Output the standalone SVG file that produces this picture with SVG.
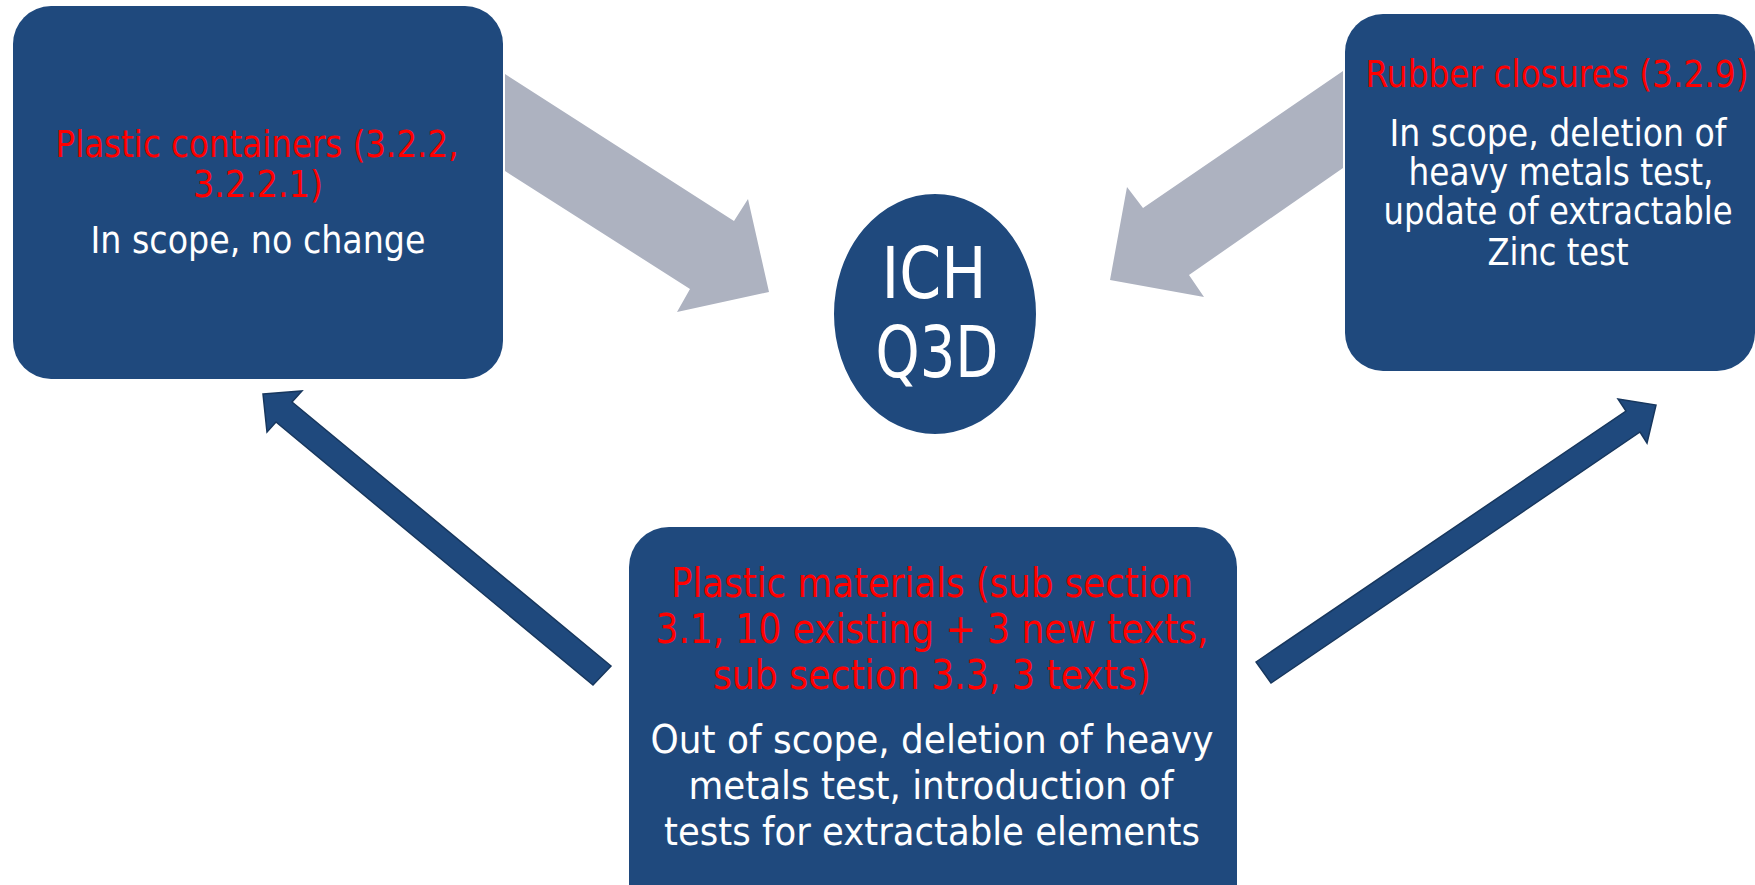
<svg xmlns="http://www.w3.org/2000/svg" width="1755" height="885" viewBox="0 0 1755 885">
<style>
.box{fill:#1F497D;}
.t{font-family:"DejaVu Sans","Noto Sans",sans-serif;text-anchor:middle;}
.red{fill:#FF0000;}
.wh{fill:#FFFFFF;}
.gray{fill:#ADB2C0;}
.blue{fill:#1F497D;stroke:#17375E;stroke-width:1.5;stroke-linejoin:miter;}
</style>
<rect width="1755" height="885" fill="#FFFFFF"/>
<g id="connectors">
<path class="gray" d="M505,74 L734,221 L748,199 L769,292 L677,312 L690,289 L505,171 Z"/>
<path class="gray" d="M1343,71 L1143,208 L1127,187 L1110,280 L1204,297 L1189,275 L1343,168 Z"/>
<path class="blue" d="M263,394 L302,391 L292,402 L611,666 L593,685 L276,422 L267,432 Z"/>
<path class="blue" d="M1256,662 L1626,411 L1618,399 L1656,405 L1647,443 L1640,432 L1271,683 Z"/>
</g>
<g id="node-plastic-containers">
<rect class="box" x="13" y="6" width="490" height="373" rx="38" ry="38"/>
<text class="t red" font-size="38" x="257" y="157" textLength="403" lengthAdjust="spacingAndGlyphs">Plastic containers (3.2.2,</text>
<text class="t red" font-size="38" x="258" y="197" textLength="130" lengthAdjust="spacingAndGlyphs">3.2.2.1)</text>
<text class="t wh" font-size="37" x="258" y="253" textLength="335" lengthAdjust="spacingAndGlyphs">In scope, no change</text>
</g>
<g id="node-rubber-closures">
<rect class="box" x="1345" y="14" width="410" height="357" rx="38" ry="38"/>
<text class="t red" font-size="37" x="1557" y="87" textLength="383" lengthAdjust="spacingAndGlyphs">Rubber closures (3.2.9)</text>
<text class="t wh" font-size="37" x="1558" y="146" textLength="337" lengthAdjust="spacingAndGlyphs">In scope, deletion of</text>
<text class="t wh" font-size="37" x="1561" y="185" textLength="305" lengthAdjust="spacingAndGlyphs">heavy metals test,</text>
<text class="t wh" font-size="37" x="1558" y="224" textLength="349" lengthAdjust="spacingAndGlyphs">update of extractable</text>
<text class="t wh" font-size="37" x="1558" y="265" textLength="141" lengthAdjust="spacingAndGlyphs">Zinc test</text>
</g>
<g id="node-ich-q3d">
<ellipse cx="935" cy="314" rx="102" ry="121" fill="#1F497D" stroke="#FFFFFF" stroke-width="2"/>
<text class="t wh" font-size="72" x="934" y="298" textLength="105" lengthAdjust="spacingAndGlyphs">ICH</text>
<text class="t wh" font-size="72" x="937" y="377" textLength="123" lengthAdjust="spacingAndGlyphs">Q3D</text>
</g>
<g id="node-plastic-materials">
<rect class="box" x="629" y="527" width="608" height="400" rx="40" ry="40"/>
<text class="t red" font-size="40" x="932" y="597" textLength="522" lengthAdjust="spacingAndGlyphs">Plastic materials (sub section</text>
<text class="t red" font-size="40" x="932" y="643" textLength="553" lengthAdjust="spacingAndGlyphs">3.1, 10 existing + 3 new texts,</text>
<text class="t red" font-size="40" x="932" y="689" textLength="438" lengthAdjust="spacingAndGlyphs">sub section 3.3, 3 texts)</text>
<text class="t wh" font-size="39" x="932" y="753" textLength="563" lengthAdjust="spacingAndGlyphs">Out of scope, deletion of heavy</text>
<text class="t wh" font-size="39" x="931" y="799" textLength="485" lengthAdjust="spacingAndGlyphs">metals test, introduction of</text>
<text class="t wh" font-size="39" x="932" y="845" textLength="536" lengthAdjust="spacingAndGlyphs">tests for extractable elements</text>
</g>
</svg>
